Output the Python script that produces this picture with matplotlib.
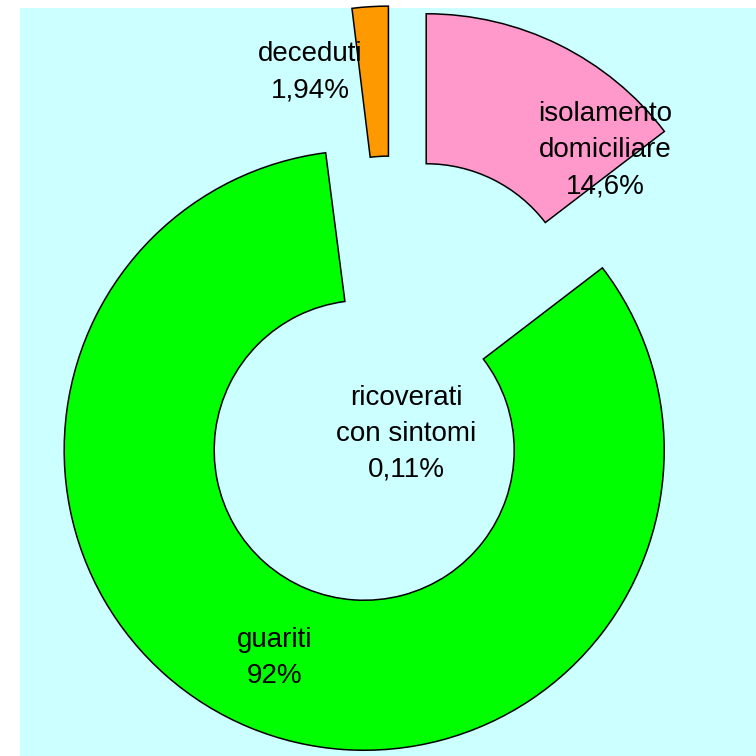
import matplotlib.pyplot as plt

plt.rcParams['font.family'] = ['Liberation Sans', 'DejaVu Sans']

# slices, clockwise from 12 o'clock
categories = ['isolamento\ndomiciliare', 'guariti', 'ricoverati\ncon sintomi', 'deceduti']
shares = [14.6, 83.35, 0.11, 1.94]
pct_labels = ['14,6%', '92%', '0,11%', '1,94%']
# the ricoverati slice is too thin to show in the original
colors = ['#FF99CC', '#00FF00', '#CCFFFF', '#FF9900']
edge_w = [1.1, 1.1, 0, 1.1]
# label anchor points (pixel-like data coords, y up)
label_x = [605, 275, 406, 310]
label_y = [606, 98, 322, 684]

fig = plt.figure(figsize=(7.56, 7.56), dpi=100)
ax = fig.add_axes([20/756, 0, 736/756, 748/756])
ax.set_facecolor('#CCFFFF')

wedges, _ = ax.pie(shares, radius=300, center=(393, 375), startangle=90, counterclock=False,
                   explode=[75]*len(shares), colors=colors,
                   wedgeprops=dict(width=150, edgecolor='black'),
                   frame=True)
for w, lw in zip(wedges, edge_w):
    w.set_linewidth(lw)

for cat, pct, x, y in zip(categories, pct_labels, label_x, label_y):
    ax.text(x, y, cat + '\n' + pct, ha='center', va='center', fontsize=20,
            linespacing=1.5, color='black')

ax.set_xlim(20, 756)
ax.set_ylim(0, 748)
ax.set_aspect('equal')
ax.set_xticks([])
ax.set_yticks([])
for s in ax.spines.values():
    s.set_visible(False)

fig.savefig('out.png', dpi=100, facecolor='white')
